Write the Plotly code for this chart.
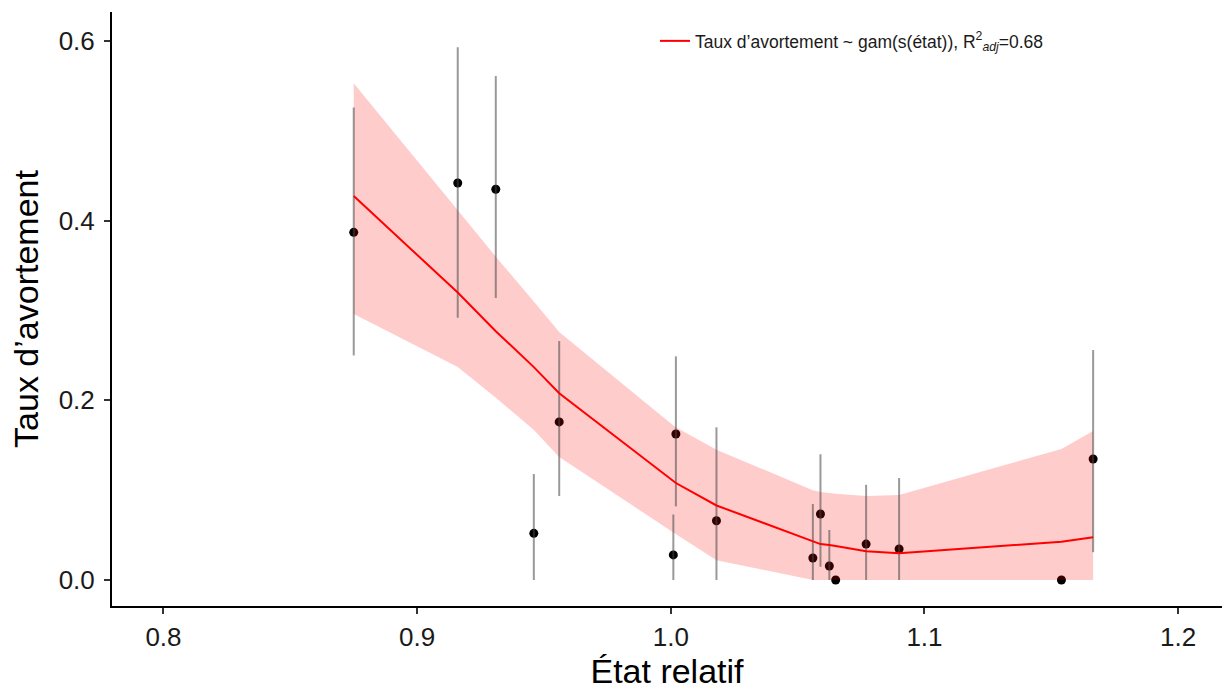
import plotly.graph_objects as go

# Observed data (relative state vs abortion rate)
etat = [0.875, 0.916, 0.931, 0.946, 0.956, 1.001, 1.002, 1.018, 1.056, 1.059,
        1.0625, 1.065, 1.077, 1.090, 1.154, 1.1665]
taux = [0.387, 0.442, 0.435, 0.052, 0.176, 0.028, 0.1625, 0.066, 0.0245, 0.0735,
        0.0156, 0.0, 0.040, 0.0345, 0.0, 0.1347]
err_bas = [0.250, 0.292, 0.314, 0.0, 0.0935, 0.0, 0.082, 0.0, 0.0, 0.0148,
           0.0, 0.0, 0.0, 0.0, 0.0, 0.031]
err_haut = [0.526, 0.593, 0.561, 0.118, 0.266, 0.073, 0.249, 0.170, 0.0846, 0.140,
            0.0557, 0.0, 0.106, 0.1135, 0.0, 0.256]

# GAM fit and confidence band at observed x
gam_fit = [0.4275, 0.320, 0.277, 0.237, 0.208, 0.110, 0.108, 0.083, 0.0427, 0.040,
           0.039, 0.038, 0.032, 0.0297, 0.0427, 0.0475]
gam_haut = [0.553, 0.412, 0.360, 0.310, 0.276, 0.172, 0.170, 0.145, 0.100, 0.098,
            0.097, 0.096, 0.0935, 0.0946, 0.146, 0.166]
gam_bas = [0.296, 0.237, 0.203, 0.167, 0.137, 0.053, 0.052, 0.022, 0.0, 0.0,
           0.0, 0.0, 0.0, 0.0, 0.0, 0.0]

x_ticks = [0.8, 0.9, 1.0, 1.1, 1.2]
x_ticklabels = ["0.8", "0.9", "1.0", "1.1", "1.2"]
y_ticks = [0.0, 0.2, 0.4, 0.6]
y_ticklabels = ["0.0", "0.2", "0.4", "0.6"]

FONT = "Liberation Sans, Arial, sans-serif"

fig = go.Figure()

# points
fig.add_trace(go.Scatter(
    x=etat, y=taux, mode="markers",
    marker=dict(color="black", size=9),
    showlegend=False, hoverinfo="skip"))

# confidence ribbon
fig.add_trace(go.Scatter(
    x=etat + etat[::-1], y=gam_haut + gam_bas[::-1],
    fill="toself", fillcolor="rgba(255,0,0,0.2)",
    line=dict(width=0), mode="lines",
    showlegend=False, hoverinfo="skip"))

# error bars
plus = [h - y for h, y in zip(err_haut, taux)]
minus = [y - b for y, b in zip(taux, err_bas)]
fig.add_trace(go.Scatter(
    x=etat, y=taux, mode="markers",
    marker=dict(size=1, opacity=0),
    error_y=dict(type="data", array=plus, arrayminus=minus, symmetric=False,
                 width=0, thickness=2, color="rgba(70,70,70,0.55)"),
    showlegend=False, hoverinfo="skip"))

# fitted line
fig.add_trace(go.Scatter(
    x=etat, y=gam_fit, mode="lines",
    line=dict(color="#FF0000", width=2),
    name="Taux d’avortement ~ gam(s(état)), R<sup>2</sup><sub><i>adj</i></sub>=0.68"))

fig.update_layout(
    width=1222, height=691,
    margin=dict(l=112, r=0, t=12, b=85),
    paper_bgcolor="white", plot_bgcolor="white",
    font=dict(family=FONT, color="#1a1a1a"),
    legend=dict(x=(655 - 112) / 1110, xanchor="left",
                y=(606 - 41) / 594, yanchor="middle",
                bgcolor="rgba(0,0,0,0)", font=dict(size=17.5, color="#1a1a1a")),
    xaxis=dict(range=[0.7797, 1.2173], tickvals=x_ticks, ticktext=x_ticklabels,
               showgrid=False, zeroline=False, showline=True, linecolor="black",
               linewidth=2, ticks="outside", ticklen=6, tickwidth=1.5, tickcolor="#333",
               tickfont=dict(size=26, color="#1a1a1a"), ticklabelstandoff=1,
               title=dict(text="État relatif", font=dict(size=34, color="black"), standoff=4),
               automargin=False),
    yaxis=dict(range=[-0.0289, 0.6323], tickvals=y_ticks, ticktext=y_ticklabels,
               showgrid=False, zeroline=False, showline=True, linecolor="black",
               linewidth=2, ticks="outside", ticklen=6, tickwidth=1.5, tickcolor="#333",
               tickfont=dict(size=26, color="#1a1a1a"), ticklabelstandoff=4,
               title=dict(text="Taux d’avortement", font=dict(size=34, color="black"), standoff=10),
               automargin=False),
)

fig.write_html("out.html")
